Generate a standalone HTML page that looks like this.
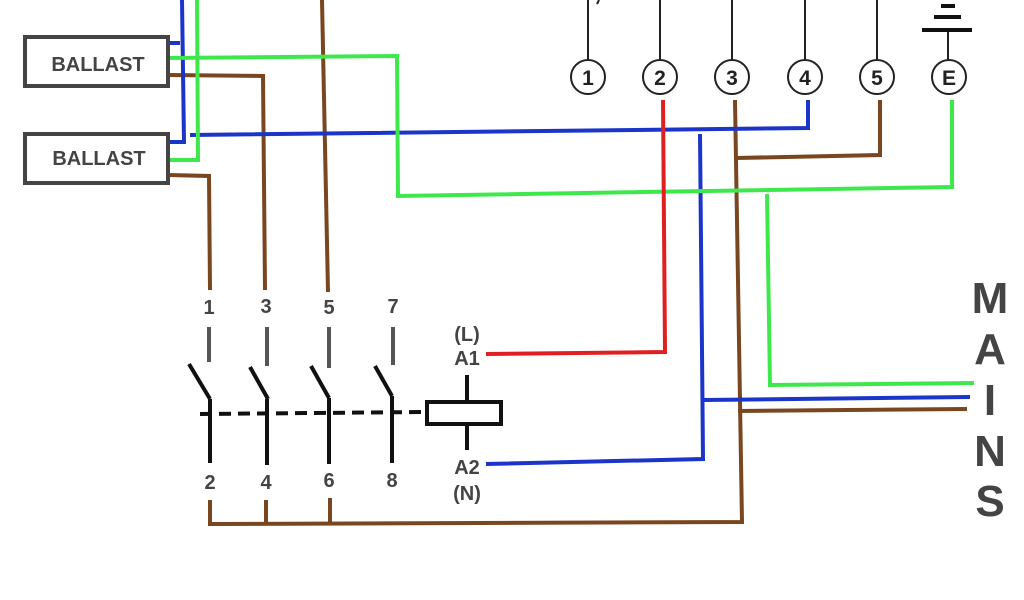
<!DOCTYPE html>
<html><head><meta charset="utf-8"><style>
html,body{margin:0;padding:0;background:#fff;}
svg{display:block;}
text{font-family:"Liberation Sans",sans-serif;font-weight:bold;fill:#444;text-anchor:middle;}
</style></head><body>
<svg width="1024" height="600" viewBox="0 0 1024 600" xmlns="http://www.w3.org/2000/svg">
<g fill="none" stroke-linejoin="miter" stroke-linecap="butt">
<g stroke="#7a4620" stroke-width="4">
<polyline points="168,75 263,76 265,290"/>
<polyline points="168,175 209,176 210,290"/>
<line x1="322" y1="0" x2="328" y2="292"/>
<polyline points="210,500 210,524 742,522 735,100"/>
<line x1="266" y1="500" x2="266" y2="524"/>
<line x1="330" y1="498" x2="330" y2="524"/>
<polyline points="736,158 880,155 880,100"/>
<line x1="738" y1="411" x2="967" y2="409"/>
</g>
<g stroke="#1a35c8" stroke-width="4">
<polyline points="168,43 180,43"/>
<polyline points="182,0 184,142 168,142"/>
<polyline points="190,135 808,128 808,100"/>
<polyline points="486,464 703,459 700,134"/>
<line x1="703" y1="400" x2="970" y2="397"/>
</g>
<g stroke="#3ee84c" stroke-width="4">
<polyline points="197,0 198,160 168,160"/>
<polyline points="168,58 397,56 398,196 952,187 952,100"/>
<polyline points="767,194 770,385 974,383"/>
</g>
<polyline points="486,354 665,352 663,100" stroke="#e02020" stroke-width="4"/>
</g>
<rect x="25" y="37" width="143" height="49" fill="#fff" stroke="#444" stroke-width="4"/>
<rect x="25" y="134" width="143" height="49" fill="#fff" stroke="#444" stroke-width="4"/>
<text x="98" y="71" font-size="20">BALLAST</text>
<text x="99" y="165" font-size="20">BALLAST</text>
<g stroke="#222" stroke-width="2" fill="#fff">
<line x1="588" y1="0" x2="588" y2="60"/>
<line x1="660" y1="0" x2="660" y2="60"/>
<line x1="732" y1="0" x2="732" y2="60"/>
<line x1="805" y1="0" x2="805" y2="60"/>
<line x1="877" y1="0" x2="877" y2="60"/>
<line x1="948" y1="30" x2="948" y2="60"/>
<circle cx="588" cy="77" r="17"/>
<circle cx="660" cy="77" r="17"/>
<circle cx="732" cy="77" r="17"/>
<circle cx="805" cy="77" r="17"/>
<circle cx="877" cy="77" r="17"/>
<circle cx="949" cy="77" r="17"/>
</g>
<line x1="599" y1="0" x2="597" y2="4" stroke="#222" stroke-width="2"/>
<g stroke="#111" stroke-width="4">
<line x1="922" y1="30" x2="972" y2="30"/>
<line x1="934" y1="17" x2="961" y2="17"/>
<line x1="941" y1="6" x2="955" y2="6"/>
</g>
<g font-size="21">
<text x="588" y="85" style="fill:#222">1</text>
<text x="660" y="85" style="fill:#222">2</text>
<text x="732" y="85" style="fill:#222">3</text>
<text x="805" y="85" style="fill:#222">4</text>
<text x="877" y="85" style="fill:#222">5</text>
<text x="949" y="85" style="fill:#222">E</text>
</g>
<g font-size="20">
<text x="209" y="314">1</text><text x="266" y="313">3</text><text x="329" y="314">5</text><text x="393" y="313">7</text>
<text x="210" y="489">2</text><text x="266" y="489">4</text><text x="329" y="487">6</text><text x="392" y="487">8</text>
<text x="467" y="341">(L)</text><text x="467" y="365">A1</text>
<text x="467" y="474">A2</text><text x="467" y="500">(N)</text>
</g>
<g stroke="#555" stroke-width="4">
<line x1="209" y1="327" x2="209" y2="362"/>
<line x1="267" y1="327" x2="267" y2="366"/>
<line x1="329" y1="327" x2="329" y2="368"/>
<line x1="393" y1="327" x2="393" y2="365"/>
</g>
<g stroke="#111" stroke-width="4">
<line x1="189" y1="364" x2="210" y2="399"/>
<line x1="250" y1="367" x2="268" y2="399"/>
<line x1="311" y1="366" x2="329" y2="398"/>
<line x1="375" y1="366" x2="392" y2="396"/>
<line x1="210" y1="399" x2="210" y2="463"/>
<line x1="267" y1="399" x2="267" y2="465"/>
<line x1="329" y1="398" x2="329" y2="464"/>
<line x1="392" y1="396" x2="392" y2="463"/>
<line x1="200" y1="414" x2="425" y2="412" stroke-dasharray="12,7"/>
<line x1="467" y1="375" x2="467" y2="402"/>
<line x1="467" y1="424" x2="467" y2="450"/>
</g>
<rect x="427" y="402" width="74" height="22" fill="#fff" stroke="#111" stroke-width="4"/>
<g font-size="44" style="fill:#444">
<text x="990" y="313">M</text>
<text x="990" y="364">A</text>
<text x="990" y="415">I</text>
<text x="990" y="466">N</text>
<text x="990" y="516">S</text>
</g>
</svg>
</body></html>
